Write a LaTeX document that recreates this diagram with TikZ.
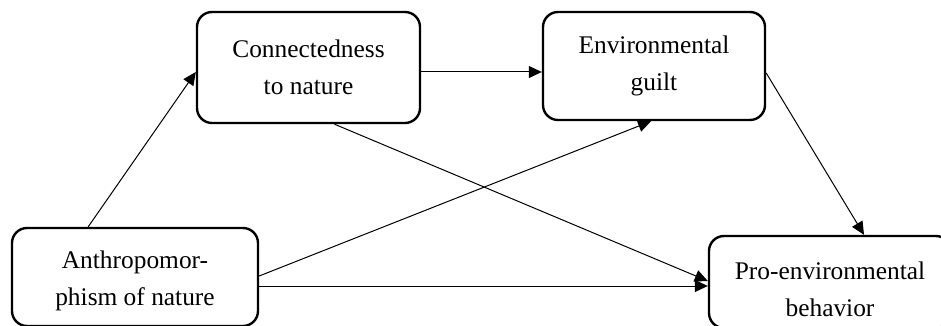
\documentclass[tikz,border=0pt]{standalone}
\usepackage{fontspec}
\setmainfont{Liberation Serif}
\usetikzlibrary{arrows.meta,calc}

\begin{document}
\begin{tikzpicture}[x=0.5pt, y=-0.5pt,
    >={Triangle[length=6.5pt,width=6pt]},
    factor/.style={draw, line width=1.2pt, rounded corners=7.5pt, align=center,
      inner sep=0pt, font=\fontsize{12.7}{18.5}\selectfont},
    link/.style={->, line width=0.5pt}]
      \useasboundingbox (0,0) rectangle (941,326);
      \clip (0,0) rectangle (941,326);
      \node[factor, minimum width=111.5pt, minimum height=55.5pt] (conn) at (308.5,67.5) {Connectedness\\to nature};
      \node[factor, minimum width=111pt, minimum height=54pt] (guilt) at (654,66) {Environmental\\guilt};
      % boxes of the lower row run to the edge, text sits low
      \node[factor, minimum width=123pt, minimum height=49pt] (anth) at (135,277) {\rule{0pt}{13pt}Anthropomor-\\phism of nature};
      \node[factor, minimum width=121pt, minimum height=46pt] (pro) at (830,282) {\rule{0pt}{16.5pt}Pro-environmental\\behavior};
      \path[link] (anth.133) edge ([yshift=-2.25pt]conn.west);
      \path[link] ([yshift=-2.25pt]conn.east) edge ([yshift=-2.25pt]conn.east -| guilt.west);
      \path[link] ([xshift=13pt]conn.south) edge ([yshift=0.5pt]pro.west);
      \path[link] ([yshift=0.5pt]anth.east) edge ([xshift=-1.5pt]guilt.south);
      \path[link] ([yshift=-4.5pt]anth.east) edge ([yshift=-4.5pt]anth.east -| pro.west);
      \path[link] ([yshift=-3.5pt]guilt.east) edge ([xshift=17pt]pro.north);
\end{tikzpicture}
\end{document}
